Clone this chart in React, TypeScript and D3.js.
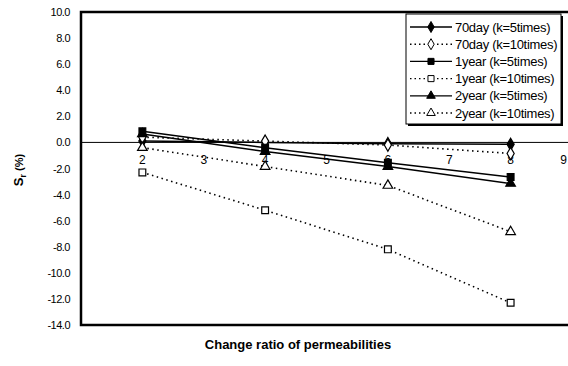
import React, { useEffect, useRef } from 'react';
import * as d3 from 'd3';

const ratios = [2, 4, 6, 8];
const day70K5 = [0.1, 0.0, -0.1, -0.15];
const day70K10 = [0.4, 0.1, -0.2, -0.85];
const year1K5 = [0.85, -0.4, -1.55, -2.65];
const year1K10 = [-2.3, -5.2, -8.2, -12.3];
const year2K5 = [0.65, -0.7, -1.85, -3.15];
const year2K10 = [-0.4, -1.85, -3.3, -6.85];

const yTicks = [10, 8, 6, 4, 2, 0, -2, -4, -6, -8, -10, -12, -14];
const xTicks = [2, 3, 4, 5, 6, 7, 8, 9];

const seriesList = [
  { label: '70day (k=5times)', values: day70K5, marker: 'diamond', filled: true, dotted: false },
  { label: '70day (k=10times)', values: day70K10, marker: 'diamond', filled: false, dotted: true },
  { label: '1year (k=5times)', values: year1K5, marker: 'square', filled: true, dotted: false },
  { label: '1year (k=10times)', values: year1K10, marker: 'square', filled: false, dotted: true },
  { label: '2year (k=5times)', values: year2K5, marker: 'triangle', filled: true, dotted: false },
  { label: '2year (k=10times)', values: year2K10, marker: 'triangle', filled: false, dotted: true },
];

const FONT = '"Liberation Sans", Arial, sans-serif';

const App = () => {
  const ref = useRef<SVGSVGElement | null>(null);

  useEffect(() => {
    if (!ref.current) return;
    const svg = d3.select(ref.current);
    svg.selectAll('*').remove();

    const margin = { top: 12, right: -4, bottom: 41, left: 81 };
    const width = 568;
    const height = 366;

    const xScale = d3.scaleLinear().domain([1, 9]).range([margin.left, width - margin.right]);
    const yScale = d3.scaleLinear().domain([-14, 10]).range([height - margin.bottom, margin.top]);

    const symbolFor = (m) => (m === 'diamond' ? d3.symbolDiamond : m === 'square' ? d3.symbolSquare : d3.symbolTriangle);
    const sizeFor = (m) => (m === 'diamond' ? 44 : m === 'square' ? 46 : 40);

    // zero line
    svg
      .append('line')
      .attr('x1', xScale(1))
      .attr('x2', width)
      .attr('y1', yScale(0))
      .attr('y2', yScale(0))
      .attr('stroke', '#000')
      .attr('stroke-width', 1);

    // x tick labels under the zero line (last one sits at the page edge)
    xTicks.forEach((t) => {
      const last = t === xTicks[xTicks.length - 1];
      svg
        .append('text')
        .attr('x', last ? width - 1 : xScale(t))
        .attr('y', yScale(0) + 22)
        .attr('text-anchor', last ? 'end' : 'middle')
        .attr('font-family', FONT)
        .attr('font-size', 12)
        .text(t);
    });

    // y tick labels
    yTicks.forEach((t) => {
      svg
        .append('text')
        .attr('x', 70)
        .attr('y', yScale(t) + 4)
        .attr('text-anchor', 'end')
        .attr('font-family', FONT)
        .attr('font-size', 11)
        .attr('letter-spacing', -0.5)
        .text(t.toFixed(1));
    });

    const line = d3
      .line<number>()
      .x((d, i) => xScale(ratios[i]))
      .y((d) => yScale(d));

    seriesList.forEach((s) => {
      svg
        .append('path')
        .attr('d', line(s.values))
        .attr('fill', 'none')
        .attr('stroke', '#000')
        .attr('stroke-width', s.dotted ? 1.6 : 1.5)
        .attr('stroke-dasharray', s.dotted ? '1.5,3.5' : null);
    });

    seriesList.forEach((s) => {
      s.values.forEach((v, i) => {
        svg
          .append('path')
          .attr('d', d3.symbol(symbolFor(s.marker), sizeFor(s.marker))())
          .attr('transform', `translate(${xScale(ratios[i])},${yScale(v)})`)
          .attr('fill', s.filled ? '#000' : '#fff')
          .attr('stroke', '#000')
          .attr('stroke-width', 1.2);
      });
    });

    // plot frame
    svg
      .append('path')
      .attr('d', `M${xScale(9.2)},${yScale(10)}H${xScale(1)}V${yScale(-14)}H${xScale(9.2)}`)
      .attr('fill', 'none')
      .attr('stroke', '#000')
      .attr('stroke-width', 2.5);

    // legend
    const lg = svg.append('g').attr('transform', 'translate(406,14)');
    lg.append('rect').attr('x', 2).attr('y', 2).attr('width', 155).attr('height', 110).attr('fill', '#000');
    lg.append('rect').attr('x', 0).attr('y', 0).attr('width', 155).attr('height', 110).attr('fill', '#fff').attr('stroke', '#000').attr('stroke-width', 1);
    seriesList.forEach((s, i) => {
      const cy = 13 + i * 17.2;
      lg.append('line')
        .attr('x1', 4)
        .attr('x2', 46)
        .attr('y1', cy)
        .attr('y2', cy)
        .attr('stroke', '#000')
        .attr('stroke-width', s.dotted ? 1.4 : 1.3)
        .attr('stroke-dasharray', s.dotted ? '1.5,3' : null);
      lg.append('path')
        .attr('d', d3.symbol(symbolFor(s.marker), sizeFor(s.marker) * 0.8)())
        .attr('transform', `translate(25,${cy})`)
        .attr('fill', s.filled ? '#000' : '#fff')
        .attr('stroke', '#000')
        .attr('stroke-width', 1);
      lg.append('text')
        .attr('x', 49)
        .attr('y', cy + 4.5)
        .attr('font-family', FONT)
        .attr('font-size', 13)
        .attr('letter-spacing', -0.3)
        .text(s.label);
    });

    // axis titles
    const yt = svg
      .append('text')
      .attr('transform', `translate(23,170) rotate(-90)`)
      .attr('text-anchor', 'middle')
      .attr('font-family', FONT)
      .attr('font-weight', 'bold')
      .attr('font-size', 13);
    yt.append('tspan').text('S');
    yt.append('tspan').attr('font-size', 9).attr('dy', 3).text('r');
    yt.append('tspan').attr('font-size', 11).attr('dy', -3).text(' (%)');

    svg
      .append('text')
      .attr('x', 298)
      .attr('y', 349)
      .attr('text-anchor', 'middle')
      .attr('font-family', FONT)
      .attr('font-weight', 'bold')
      .attr('font-size', 13)
      .text('Change ratio of permeabilities');
  }, []);

  return <svg ref={ref} width={568} height={366} style={{ position: 'absolute', left: 0, top: 0, background: '#fff' }} />;
};

export default App;
